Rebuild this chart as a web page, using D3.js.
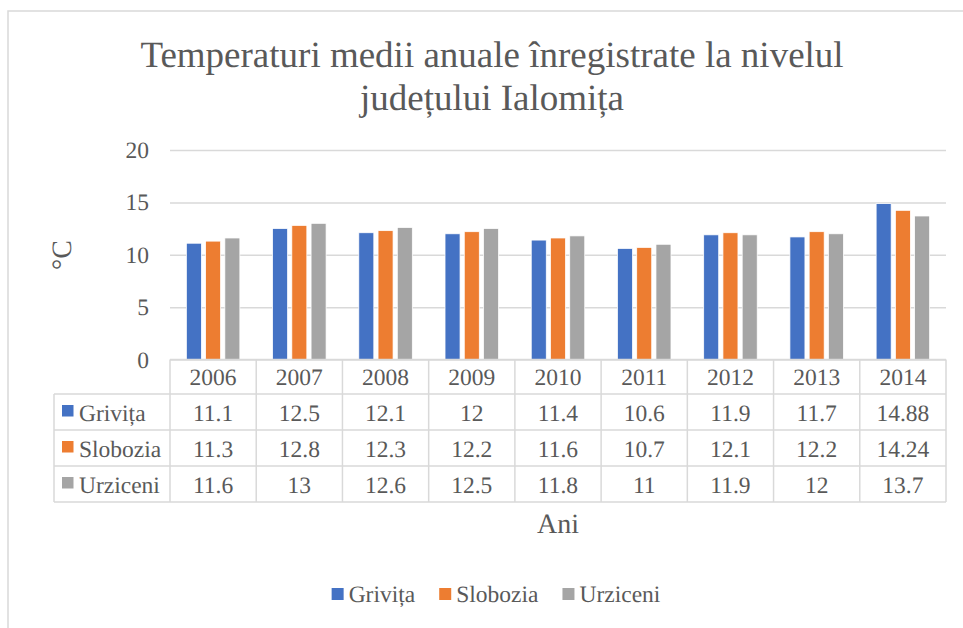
<!DOCTYPE html>
<html>
<head>
<meta charset="utf-8">
<script src="https://cdn.jsdelivr.net/npm/d3@7"></script>
<style>
  body { margin: 0; background: #fff; }
  svg text { text-rendering: geometricPrecision; }
</style>
</head>
<body>
<svg id="chart"></svg>
<script>
// data
const years = ['2006', '2007', '2008', '2009', '2010', '2011', '2012', '2013', '2014'];
const seriesNames = ['Grivița', 'Slobozia', 'Urziceni'];
const grivita = [11.1, 12.5, 12.1, 12, 11.4, 10.6, 11.9, 11.7, 14.88];
const slobozia = [11.3, 12.8, 12.3, 12.2, 11.6, 10.7, 12.1, 12.2, 14.24];
const urziceni = [11.6, 13, 12.6, 12.5, 11.8, 11, 11.9, 12, 13.7];
const yTicks = [0, 5, 10, 15, 20];
const colors = ['#4472C4', '#ED7D31', '#A5A5A5'];

const seriesValues = [grivita, slobozia, urziceni];
const rows = years.map((yr, i) => ({ year: yr, values: seriesValues.map(s => s[i]) }));

const svgWidth = 963, svgHeight = 628;
const plot = { left: 170, right: 946, top: 150, bottom: 359.5 };
const rowH = 36;
const headerBottom = 394;
const tableLeft = 54;
const gridColor = '#D9D9D9';
const textColor = '#595959';
const fontFamily = "'Liberation Serif', 'Times New Roman', serif";

const svg = d3.select('#chart')
  .attr('width', svgWidth)
  .attr('height', svgHeight);

// chart frame
svg.append('rect')
  .attr('x', 8).attr('y', 11)
  .attr('width', 1000).attr('height', 700)
  .attr('fill', 'none')
  .attr('stroke', gridColor)
  .attr('stroke-width', 1.5);

// title
const title = svg.append('text')
  .attr('text-anchor', 'middle')
  .style('font-size', '37px');
title.append('tspan').attr('x', 492).attr('y', 67)
  .text('Temperaturi medii anuale înregistrate la nivelul');
title.append('tspan').attr('x', 492).attr('y', 110)
  .text('județului Ialomița');

const x0 = d3.scaleBand()
  .domain(years)
  .range([plot.left, plot.right]);

const x1 = d3.scaleBand()
  .domain(seriesNames)
  .range([0, x0.bandwidth()])
  .paddingInner(0.22)
  .paddingOuter(0.85);

const y = d3.scaleLinear()
  .domain([0, 20])
  .range([plot.bottom, plot.top]);

// gridlines + tick labels
const yAxis = d3.axisLeft(y)
  .tickValues(yTicks)
  .tickSize(-(plot.right - plot.left))
  .tickPadding(21)
  .tickFormat(d3.format('d'));

const gY = svg.append('g')
  .attr('transform', 'translate(' + plot.left + ',0)')
  .call(yAxis);
gY.select('.domain').remove();
gY.selectAll('.tick line')
  .attr('stroke', gridColor)
  .attr('stroke-width', 1.5);
gY.selectAll('.tick text')
  .style('font-size', '23.5px');

// y axis title
svg.append('text')
  .attr('transform', 'translate(71,255) rotate(-90)')
  .attr('text-anchor', 'middle')
  .style('font-size', '28px')
  .text('°C');

// bars
const groups = svg.append('g')
  .selectAll('g')
  .data(rows)
  .enter()
  .append('g')
  .attr('transform', d => 'translate(' + x0(d.year) + ',0)');

groups.selectAll('rect')
  .data(d => d.values.map((v, i) => ({ name: seriesNames[i], value: v, color: colors[i] })))
  .enter()
  .append('rect')
  .attr('x', d => x1(d.name))
  .attr('y', d => y(d.value))
  .attr('width', x1.bandwidth())
  .attr('height', d => y(0) - y(d.value))
  .attr('fill', d => d.color)
  .attr('stroke', '#fff')
  .attr('stroke-width', 0.75);

// data table
const table = svg.append('g');
const tableBottom = headerBottom + rowH * seriesNames.length;

// horizontal lines
table.append('line')
  .attr('x1', plot.left).attr('x2', plot.right)
  .attr('y1', plot.bottom).attr('y2', plot.bottom);
d3.range(seriesNames.length + 1).forEach(i => {
  table.append('line')
    .attr('x1', tableLeft).attr('x2', plot.right)
    .attr('y1', headerBottom + i * rowH).attr('y2', headerBottom + i * rowH);
});
// vertical lines
table.append('line')
  .attr('x1', tableLeft).attr('x2', tableLeft)
  .attr('y1', headerBottom).attr('y2', tableBottom);
years.concat(['end']).forEach((yr, i) => {
  const xx = i < years.length ? x0(yr) : plot.right;
  table.append('line')
    .attr('x1', xx).attr('x2', xx)
    .attr('y1', plot.bottom).attr('y2', tableBottom);
});
table.selectAll('line')
  .attr('stroke', gridColor)
  .attr('stroke-width', 1.5);

// header years
table.selectAll('text.year')
  .data(years)
  .enter()
  .append('text')
  .attr('class', 'year')
  .attr('x', d => x0(d) + x0.bandwidth() / 2)
  .attr('y', 385)
  .attr('text-anchor', 'middle')
  .style('font-size', '23.5px')
  .text(d => d);

// row labels with keys
seriesNames.forEach((name, si) => {
  const top = headerBottom + si * rowH;
  table.append('rect')
    .attr('x', 62).attr('y', top + 11)
    .attr('width', 11.5).attr('height', 11.5)
    .attr('fill', colors[si]);
  table.append('text')
    .attr('x', 79).attr('y', top + 26.5)
    .style('font-size', '23.5px')
    .text(name);
  table.selectAll('text.v' + si)
    .data(seriesValues[si])
    .enter()
    .append('text')
    .attr('class', 'v' + si)
    .attr('x', (d, i) => x0(years[i]) + x0.bandwidth() / 2)
    .attr('y', top + 26.5)
    .attr('text-anchor', 'middle')
    .style('font-size', '23.5px')
    .text(d => String(d));
});

// x axis title
svg.append('text')
  .attr('x', 558).attr('y', 533)
  .attr('text-anchor', 'middle')
  .style('font-size', '28px')
  .text('Ani');

// legend
const legend = svg.append('g');
let lx = 0;
seriesNames.forEach((name, i) => {
  const item = legend.append('g').attr('transform', 'translate(' + lx + ',0)');
  item.append('rect')
    .attr('x', 0).attr('y', -14)
    .attr('width', 12).attr('height', 12)
    .attr('fill', colors[i]);
  const t = item.append('text')
    .attr('x', 17).attr('y', 0)
    .style('font-size', '23.5px')
    .style('font-family', fontFamily)
    .text(name);
  lx += 17 + t.node().getComputedTextLength() + 24;
});
const legendW = lx - 24;
legend.attr('transform', 'translate(' + (496 - legendW / 2) + ',602)');

// common text styling
svg.selectAll('text')
  .style('font-family', fontFamily)
  .attr('fill', textColor);
</script>
</body>
</html>
